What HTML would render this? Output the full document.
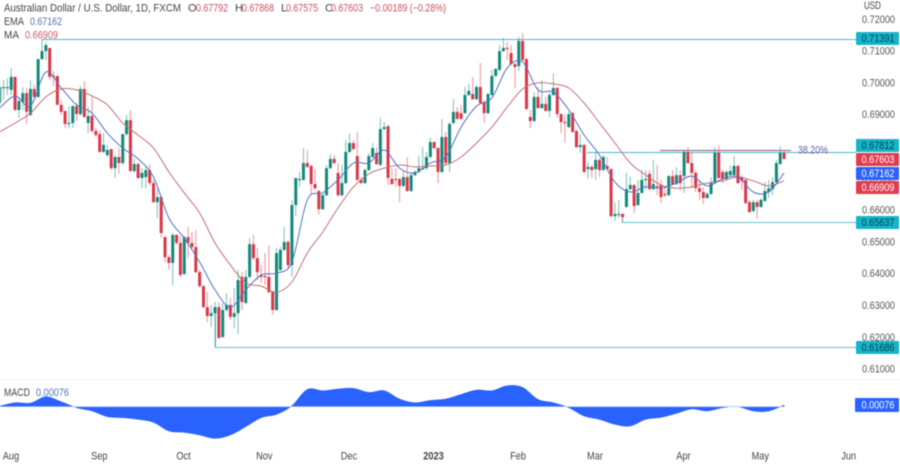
<!DOCTYPE html>
<html>
<head>
<meta charset="utf-8">
<style>
html,body{margin:0;padding:0;background:#fff;width:900px;height:465px;overflow:hidden}
svg{display:block;filter:blur(0.4px)}
text{font-family:"Liberation Sans",sans-serif;font-size:11px}
</style>
</head>
<body>
<svg id="chart" width="900" height="465" viewBox="0 0 900 465" xmlns="http://www.w3.org/2000/svg">
<rect width="900" height="465" fill="#ffffff"/>
<g id="hlines" fill="none" stroke="#4cb9ca" stroke-width="1">
<path d="M42 39.5H856"/>
<path d="M587 152.5H856"/>
<path d="M622.5 215V222.5H856" stroke="#6cc2ce"/>
<path d="M215.5 307V347.5H856" stroke="#6cc2ce"/>
</g>
<g id="candles"></g>
<path id="ma-line" fill="none" stroke="#c46f74" stroke-width="1"/>
<path id="ema-line" fill="none" stroke="#5274c4" stroke-width="1"/>
<path d="M660 150.5H791" fill="none" stroke="#8a5a80" stroke-width="1"/>
<text x="798" y="153.5" fill="#6a5a9e" textLength="30" lengthAdjust="spacingAndGlyphs">38.20%</text>

<g>
<text x="4" y="11.5" fill="#444" textLength="177" lengthAdjust="spacingAndGlyphs">Australian Dollar / U.S. Dollar, 1D, FXCM</text>
<text x="188" y="11.5" fill="#444">O</text>
<text x="196" y="11.5" fill="#c8505f" textLength="32" lengthAdjust="spacingAndGlyphs">0.67792</text>
<text x="235" y="11.5" fill="#444">H</text>
<text x="242" y="11.5" fill="#c8505f" textLength="32" lengthAdjust="spacingAndGlyphs">0.67868</text>
<text x="281" y="11.5" fill="#444">L</text>
<text x="286" y="11.5" fill="#c8505f" textLength="32" lengthAdjust="spacingAndGlyphs">0.67575</text>
<text x="325" y="11.5" fill="#444">C</text>
<text x="331" y="11.5" fill="#c8505f" textLength="32" lengthAdjust="spacingAndGlyphs">0.67603</text>
<text x="370" y="11.5" fill="#c8505f" textLength="76" lengthAdjust="spacingAndGlyphs">−0.00189 (−0.28%)</text>
<text x="4" y="25" fill="#444" textLength="20" lengthAdjust="spacingAndGlyphs">EMA</text>
<text x="30" y="25" fill="#5274b8" textLength="32" lengthAdjust="spacingAndGlyphs">0.67162</text>
<text x="4" y="38.5" fill="#444" textLength="15" lengthAdjust="spacingAndGlyphs">MA</text>
<text x="25" y="38.5" fill="#c8606a" textLength="33" lengthAdjust="spacingAndGlyphs">0.66909</text>
</g>

<text x="864" y="9" fill="#444" textLength="17" lengthAdjust="spacingAndGlyphs">USD</text>
<g id="price-ticks" fill="#555"></g>

<g>
<rect x="856" y="32" width="43" height="13" rx="1" fill="#12b5cb"/>
<text x="861.5" y="42" fill="#123c44" textLength="33" lengthAdjust="spacingAndGlyphs">0.71391</text>
<rect x="856" y="139" width="43" height="13" rx="1" fill="#12b5cb"/>
<text x="861.5" y="149" fill="#123c44" textLength="33" lengthAdjust="spacingAndGlyphs">0.67812</text>
<rect x="856" y="153" width="43" height="13" rx="1" fill="#e23b4e"/>
<text x="861.5" y="163" fill="#fff" textLength="33" lengthAdjust="spacingAndGlyphs">0.67603</text>
<rect x="856" y="167" width="43" height="13" rx="1" fill="#2962ff"/>
<text x="861.5" y="177" fill="#fff" textLength="33" lengthAdjust="spacingAndGlyphs">0.67162</text>
<rect x="856" y="181" width="43" height="13" rx="1" fill="#e23b4e"/>
<text x="861.5" y="191" fill="#fff" textLength="33" lengthAdjust="spacingAndGlyphs">0.66909</text>
<rect x="856" y="216" width="43" height="13" rx="1" fill="#12b5cb"/>
<text x="861.5" y="226" fill="#123c44" textLength="33" lengthAdjust="spacingAndGlyphs">0.65637</text>
<rect x="856" y="341" width="43" height="13" rx="1" fill="#12b5cb"/>
<text x="861.5" y="351" fill="#123c44" textLength="33" lengthAdjust="spacingAndGlyphs">0.61686</text>
</g>

<line x1="0" x2="900" y1="379.5" y2="379.5" stroke="#eeeeee"/>
<path id="macd-area" fill="#2962ff" stroke="#2962ff" stroke-width="0.5"/>
<line id="macd-zero" x1="0" x2="784" y1="406.7" y2="406.7" stroke="#b9c9f5" stroke-width="0.6"/>
<text x="4" y="396" fill="#444" textLength="26" lengthAdjust="spacingAndGlyphs">MACD</text>
<text x="36" y="396" fill="#4f74b8" textLength="33" lengthAdjust="spacingAndGlyphs">0.00076</text>
<rect x="855" y="398" width="44" height="14" rx="1" fill="#2962ff"/>
<text x="861.5" y="408.5" fill="#fff" textLength="33" lengthAdjust="spacingAndGlyphs">0.00076</text>
<g id="time-ticks" fill="#444"></g>
</svg>

<script>
// Prices are stored in units of 0.0001 (e.g. 6936 = 0.6936)
const priceUnit = 0.0001;
const opens = [
6936,6983,6983,6977,7018,6914,6939,6967,6898,6980,
6955,7074,7099,7109,7021,7021,6930,6911,6870,6873,
6926,6901,6980,6873,6895,6848,6838,6782,6772,6791,
6731,6766,6747,6838,6882,6722,6744,6700,6703,6725,
6684,6624,6640,6514,6451,6433,6521,6496,6398,6514,
6496,6483,6404,6360,6294,6266,6275,6294,6200,6285,
6301,6263,6275,6389,6307,6389,6492,6448,6395,6392,
6389,6341,6285,6411,6474,6499,6426,6615,6694,6694,
6747,6738,6681,6659,6602,6646,6731,6760,6716,6646,
6684,6782,6810,6769,6694,6684,6725,6766,6779,6741,
6854,6863,6697,6697,6697,6675,6703,6659,6709,6719,
6728,6731,6766,6813,6794,6719,6829,6747,6873,6908,
6904,6904,6961,6964,6948,6986,6939,6904,6961,7021,
7040,7099,7109,7093,7058,7052,7131,7074,6892,6879,
6955,6920,6933,6911,6961,6983,6901,6876,6860,6904,
6848,6797,6804,6728,6735,6728,6757,6725,6738,6728,
6580,6584,6587,6609,6665,6678,6615,6653,6694,6713,
6665,6675,6678,6650,6646,6706,6681,6709,6706,6782,
6747,6716,6668,6656,6637,6650,6684,6779,6719,6697,
6709,6709,6738,6703,6694,6624,6596,6624,6609,6628,
6656,6665,6687,6744,6779];
const closes = [
6986,6986,6986,7018,6914,6942,6967,6908,6980,6955,
7074,7099,7118,7018,7018,6930,6908,6870,6873,6926,
6901,6980,6892,6895,6848,6835,6782,6804,6788,6731,
6766,6747,6838,6882,6722,6744,6700,6716,6725,6684,
6624,6640,6527,6451,6433,6521,6496,6395,6514,6496,
6483,6404,6360,6294,6266,6275,6294,6197,6285,6301,
6263,6275,6379,6310,6389,6492,6448,6404,6389,6389,
6341,6285,6464,6474,6499,6426,6615,6700,6697,6747,
6735,6681,6668,6602,6646,6731,6760,6747,6646,6684,
6782,6810,6791,6694,6684,6725,6769,6794,6744,6854,
6860,6700,6681,6694,6675,6703,6659,6709,6719,6731,
6731,6766,6813,6794,6719,6829,6747,6870,6908,6886,
6886,6961,6974,6948,6986,6936,6904,6964,7021,7043,
7099,7109,7106,7058,7049,7131,7071,6917,6879,6955,
6920,6933,6911,6961,6983,6901,6876,6873,6901,6845,
6797,6804,6719,6735,6725,6757,6725,6766,6728,6580,
6587,6587,6577,6665,6678,6612,6653,6694,6697,6665,
6681,6672,6640,6646,6706,6681,6709,6684,6782,6747,
6716,6668,6656,6637,6650,6684,6779,6700,6697,6719,
6722,6738,6684,6691,6621,6593,6624,6609,6631,6659,
6668,6687,6747,6779,6760];
const highs = [
7008,7008,7014,7046,7018,6955,6986,6983,7008,6992,
7074,7137,7128,7109,7036,7021,6945,6911,6926,6930,
6936,6989,7005,6923,6955,6857,6851,6841,6804,6791,
6772,6794,6838,6898,6914,6760,6750,6731,6735,6744,
6694,6668,6646,6518,6458,6527,6524,6518,6518,6546,
6530,6536,6411,6363,6341,6301,6310,6310,6307,6338,
6323,6354,6411,6404,6411,6511,6521,6480,6426,6464,
6489,6344,6480,6483,6546,6505,6631,6700,6719,6794,
6788,6741,6728,6662,6650,6741,6775,6772,6747,6741,
6819,6841,6819,6845,6700,6731,6779,6810,6797,6889,
6876,6867,6731,6731,6700,6725,6766,6716,6725,6769,
6797,6782,6826,6816,6797,6886,6845,6876,6948,6923,
6930,6986,6996,7018,6992,7062,6945,6967,7040,7046,
7118,7140,7128,7118,7062,7143,7156,7077,6914,6970,
6986,7008,6955,6970,7030,6986,6904,6898,6908,6908,
6851,6838,6807,6750,6741,6782,6763,6772,6766,6731,
6624,6631,6590,6716,6703,6681,6694,6725,6725,6725,
6757,6741,6694,6672,6709,6725,6735,6725,6785,6797,
6782,6725,6694,6672,6656,6703,6797,6804,6725,6725,
6741,6769,6741,6709,6700,6631,6631,6631,6637,6687,
6694,6703,6757,6801,6787];
const lows = [
6920,6945,6961,6961,6911,6889,6914,6870,6895,6952,
6952,7071,7071,7008,6989,6930,6898,6857,6857,6857,
6879,6895,6889,6841,6841,6829,6779,6779,6766,6725,
6700,6713,6741,6832,6719,6716,6697,6668,6668,6675,
6621,6574,6511,6436,6411,6363,6489,6389,6395,6448,
6474,6401,6354,6291,6247,6231,6168,6194,6197,6279,
6253,6228,6209,6285,6304,6385,6442,6379,6370,6363,
6338,6269,6282,6407,6470,6417,6389,6580,6672,6691,
6731,6646,6662,6584,6599,6643,6728,6744,6640,6640,
6681,6779,6788,6691,6681,6681,6722,6763,6741,6738,
6851,6678,6678,6672,6624,6672,6656,6656,6706,6716,
6725,6725,6763,6791,6684,6716,6741,6719,6867,6882,
6882,6901,6958,6945,6945,6933,6873,6901,6958,7018,
7036,7096,7071,7055,6983,7036,7068,6914,6857,6876,
6917,6917,6908,6892,6958,6889,6841,6810,6857,6841,
6794,6779,6716,6697,6700,6694,6703,6722,6725,6577,
6565,6574,6562,6606,6662,6590,6612,6650,6662,6662,
6662,6646,6621,6640,6643,6678,6678,6662,6653,6744,
6668,6656,6631,6618,6634,6646,6681,6697,6684,6694,
6706,6706,6681,6662,6618,6590,6593,6571,6606,6624,
6637,6646,6684,6741,6758];

// Indicator series are sampled every 4th session
const indicatorStep = 4;
const emaValues = [6920,6958,6926,7033,6983,6930,6904,6841,6794,6760,6703,6574,6511,6436,6348,6294,6348,6395,6401,6436,6631,6653,6694,6747,6747,6788,6731,6716,6747,6766,6860,6926,6952,7046,7065,6977,6970,6914,6835,6772,6687,6656,6672,6668,6684,6706,6675,6697,6703,6656,6656,6716];
const maValues = [6845,6873,6904,6955,6980,6977,6958,6930,6873,6835,6794,6719,6653,6590,6496,6426,6370,6360,6341,6373,6464,6530,6606,6672,6713,6731,6741,6735,6738,6741,6766,6810,6860,6923,6980,6999,6996,6983,6936,6873,6810,6747,6709,6678,6668,6672,6684,6691,6703,6691,6675,6691];
// MACD in units of 0.00001
const macdUnit = 0.00001;
const macdValues = [30,180,165,450,225,-45,-195,-450,-495,-570,-705,-1095,-1155,-1275,-1425,-1275,-900,-495,-345,45,780,720,795,825,645,720,345,180,285,345,555,750,720,945,870,330,180,-45,-420,-570,-795,-870,-570,-480,-300,-105,-195,-45,0,-195,-195,76];

const priceTicks = ["0.72000","0.71000","0.70000","0.69000","0.67000","0.66000","0.65000","0.64000","0.63000","0.62000","0.61000"];
const timeLabels = ["Aug","Sep","Oct","Nov","Dec","2023","Feb","Mar","Apr","May","Jun"];
const timeIndex = [1.1,24.1,46,67,89,111,133,153,176,196,219];

const NS = "http://www.w3.org/2000/svg";
function xOf(i){ return 3.845 * i - 0.3; }
function yOf(price){ return 19 + (0.72 - price) * 3180; }
function yPip(v){ return yOf(v * priceUnit); }
function yMacd(v){ return 406.7 - v * macdUnit / 0.00045; }

const candleGroup = document.getElementById("candles");
opens.forEach(function(o, i){
  const c = closes[i];
  const up = c >= o;
  const col = up ? "#12897b" : "#dc3648";
  const x = xOf(i);
  const wick = document.createElementNS(NS, "line");
  wick.setAttribute("x1", x); wick.setAttribute("x2", x);
  wick.setAttribute("y1", yPip(highs[i])); wick.setAttribute("y2", yPip(lows[i]));
  wick.setAttribute("stroke", col);
  wick.setAttribute("stroke-opacity", "0.55");
  wick.setAttribute("stroke-width", "1");
  
  
  candleGroup.appendChild(wick);
  const body = document.createElementNS(NS, "rect");
  const top = Math.min(yPip(o), yPip(c));
  const h = Math.max(Math.abs(yPip(o) - yPip(c)), 1.2);
  body.setAttribute("x", x - 1.5); body.setAttribute("width", 3);
  body.setAttribute("y", top); body.setAttribute("height", h);
  body.setAttribute("fill", col);
  
  
  candleGroup.appendChild(body);
});

// Smooth curve through the read points (Catmull-Rom to Bezier)
function curveThrough(pts){
  let d = "";
  for (let k = 0; k < pts.length - 1; k++){
    const p0 = pts[Math.max(k - 1, 0)], p1 = pts[k], p2 = pts[k + 1], p3 = pts[Math.min(k + 2, pts.length - 1)];
    const c1x = p1[0] + (p2[0] - p0[0]) / 6, c1y = p1[1] + (p2[1] - p0[1]) / 6;
    const c2x = p2[0] - (p3[0] - p1[0]) / 6, c2y = p2[1] - (p3[1] - p1[1]) / 6;
    d += "C" + c1x.toFixed(1) + " " + c1y.toFixed(1) + " " + c2x.toFixed(1) + " " + c2y.toFixed(1) + " " + p2[0].toFixed(1) + " " + p2[1].toFixed(1);
  }
  return d;
}
function linePath(values){
  const pts = values.map(function(v, k){ return [xOf(k * indicatorStep), yPip(v)]; });
  return "M" + pts[0][0].toFixed(1) + " " + pts[0][1].toFixed(1) + curveThrough(pts);
}
document.getElementById("ema-line").setAttribute("d", linePath(emaValues));
document.getElementById("ma-line").setAttribute("d", linePath(maValues));

const macdPts = macdValues.map(function(v, k){ return [xOf(k * indicatorStep), yMacd(v)]; });
const macdPath = "M" + macdPts[0][0].toFixed(1) + " " + yMacd(0) +
  "L" + macdPts[0][0].toFixed(1) + " " + macdPts[0][1].toFixed(1) + curveThrough(macdPts) +
  "L" + macdPts[macdPts.length - 1][0].toFixed(1) + " " + yMacd(0) + "Z";
document.getElementById("macd-area").setAttribute("d", macdPath);

const priceGroup = document.getElementById("price-ticks");
priceTicks.forEach(function(label){
  const t = document.createElementNS(NS, "text");
  t.setAttribute("x", 862);
  t.setAttribute("y", yOf(parseFloat(label)) + 3.8);
  t.setAttribute("textLength", "33");
  t.setAttribute("lengthAdjust", "spacingAndGlyphs");
  
  
  t.textContent = label;
  priceGroup.appendChild(t);
});

const timeGroup = document.getElementById("time-ticks");
timeLabels.forEach(function(label, k){
  const t = document.createElementNS(NS, "text");
  t.setAttribute("x", xOf(timeIndex[k]) + 7);
  t.setAttribute("y", 459.5);
  t.setAttribute("text-anchor", "middle");
  if (label === "2023") t.setAttribute("font-weight", "bold");
  
  
  t.textContent = label;
  timeGroup.appendChild(t);
  t.setAttribute("textLength", (t.getComputedTextLength() * 0.84).toFixed(1));
  t.setAttribute("lengthAdjust", "spacingAndGlyphs");
});
</script>
</body>
</html>
